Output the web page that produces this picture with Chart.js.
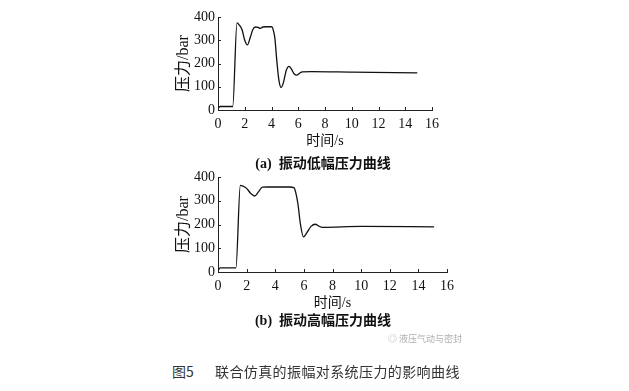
<!DOCTYPE html>
<html>
<head>
<meta charset="utf-8">
<script src="https://cdn.jsdelivr.net/npm/chart.js@4.4.1/dist/chart.umd.min.js"></script>
<style>
  body { margin: 0; background: #fff; }
  #page { position: relative; width: 629px; height: 391px; overflow: hidden; background: #fff; }
  canvas { position: absolute; }
  .cap { position: absolute; white-space: pre; color: #111; }
  .sub { font: bold 14px "Liberation Serif", "Noto Sans CJK SC", serif; transform: translateX(-50%); }
  #wm { left: 388px; top: 332px; font: 9px "Noto Sans CJK SC", sans-serif; color: #b0b0b0; }
  .fig { top: 361px; font: 14px "Noto Sans CJK SC", sans-serif; color: #333; }
</style>
</head>
<body>
<div id="page">
  <canvas id="chartA" width="290" height="150" style="left:160px;top:0px"></canvas>
  <canvas id="chartB" width="300" height="147" style="left:160px;top:165px"></canvas>
  <div class="cap sub" style="left:323px;top:152px">(a)  振动低幅压力曲线</div>
  <div class="cap sub" style="left:323px;top:309px">(b)  振动高幅压力曲线</div>
  <div class="cap" id="wm">◎ 液压气动与密封</div>
  <div class="cap fig" style="left:172px">图5</div>
  <div class="cap fig" style="left:215px;letter-spacing:0.4px">联合仿真的振幅对系统压力的影响曲线</div>
</div>
<script>
// (a) low amplitude
const timeA = [0, 0.15, 1.1, 1.42, 1.6, 1.8, 2.0, 2.2, 2.4, 2.6, 2.8, 3.0, 3.15, 3.35, 3.6, 4.0, 4.1, 4.25, 4.4, 4.55, 4.72, 4.9, 5.1, 5.3, 5.5, 5.7, 5.9, 6.1, 6.3, 7.0, 10.0, 14.9];
const pressA = [5, 15, 15, 375, 365, 345, 300, 280, 310, 345, 357, 355, 351, 357, 358, 358, 350, 310, 210, 130, 97, 120, 170, 188, 175, 155, 150, 158, 164, 165, 163, 160];

// (b) high amplitude
const timeB = [0, 0.15, 1.25, 1.56, 1.8, 2.0, 2.3, 2.56, 2.8, 3.1, 3.5, 5.0, 5.3, 5.45, 5.6, 5.75, 5.97, 6.2, 6.5, 6.8, 7.05, 7.3, 10.0, 15.1];
const pressB = [5, 17, 17, 365, 360, 352, 330, 320, 335, 357, 358, 358, 355, 330, 280, 205, 148, 165, 192, 201, 193, 188, 192, 190];

const xTicks = [0, 2, 4, 6, 8, 10, 12, 14, 16];
const yTicks = [0, 100, 200, 300, 400];

const serif = '"Liberation Serif", "Noto Sans CJK SC", serif';

// ticks drawn inward, like the paper figure
const inwardTicks = {
    id: 'inwardTicks',
    afterDraw(chart) {
        const ctx = chart.ctx;
        const area = chart.chartArea;
        ctx.save();
        ctx.strokeStyle = '#222';
        ctx.lineWidth = 1;
        ctx.beginPath();
        xTicks.forEach(v => {
            const px = Math.round(chart.scales.x.getPixelForValue(v)) + 0.5;
            ctx.moveTo(px, area.bottom);
            ctx.lineTo(px, area.bottom - 3);
        });
        yTicks.forEach(v => {
            const py = Math.round(chart.scales.y.getPixelForValue(v)) + 0.5;
            ctx.moveTo(area.left, py);
            ctx.lineTo(area.left + 3, py);
        });
        ctx.stroke();
        ctx.restore();
    }
};

function makeChart(id, times, values, pad, yWidth) {
    const ctx = document.getElementById(id).getContext('2d');
    return new Chart(ctx, {
        type: 'line',
        data: {
            datasets: [{
                data: times.map((t, i) => ({ x: t, y: values[i] })),
                borderColor: '#111',
                borderWidth: 1.3,
                pointRadius: 0,
                fill: false,
                cubicInterpolationMode: 'monotone'
            }]
        },
        options: {
            responsive: false,
            animation: false,
            devicePixelRatio: 1,
            layout: { padding: pad },
            plugins: { legend: { display: false }, tooltip: { enabled: false } },
            scales: {
                x: {
                    type: 'linear',
                    min: 0,
                    max: 16,
                    afterBuildTicks: s => { s.ticks = xTicks.map(v => ({ value: v })); },
                    afterFit: s => { s.height = 40; },
                    grid: { display: true, drawOnChartArea: false, drawTicks: false },
                    border: { display: true, color: '#222', width: 1 },
                    ticks: { color: '#111', padding: 6, maxRotation: 0, autoSkip: false, font: { family: serif, size: 14 } },
                    title: { display: true, text: '时间/s', color: '#111', padding: { top: 0, bottom: 0 }, font: { family: serif, size: 14 } }
                },
                y: {
                    min: 0,
                    max: 400,
                    afterBuildTicks: s => { s.ticks = yTicks.map(v => ({ value: v })); },
                    afterFit: s => { s.width = yWidth; },
                    grid: { display: true, drawOnChartArea: false, drawTicks: false },
                    border: { display: true, color: '#222', width: 1 },
                    ticks: { color: '#111', padding: 3, font: { family: serif, size: 14 } },
                    title: { display: true, text: '压力/bar', color: '#111', padding: { top: 14, bottom: 0 }, font: { family: serif, size: 16 } }
                }
            }
        },
        plugins: [inwardTicks]
    });
}

makeChart('chartA', timeA, pressA, { top: 17, right: 18, left: 0, bottom: 0 }, 58);
makeChart('chartB', timeB, pressB, { top: 12, right: 12, left: 0, bottom: 0 }, 58);
</script>
</body>
</html>
